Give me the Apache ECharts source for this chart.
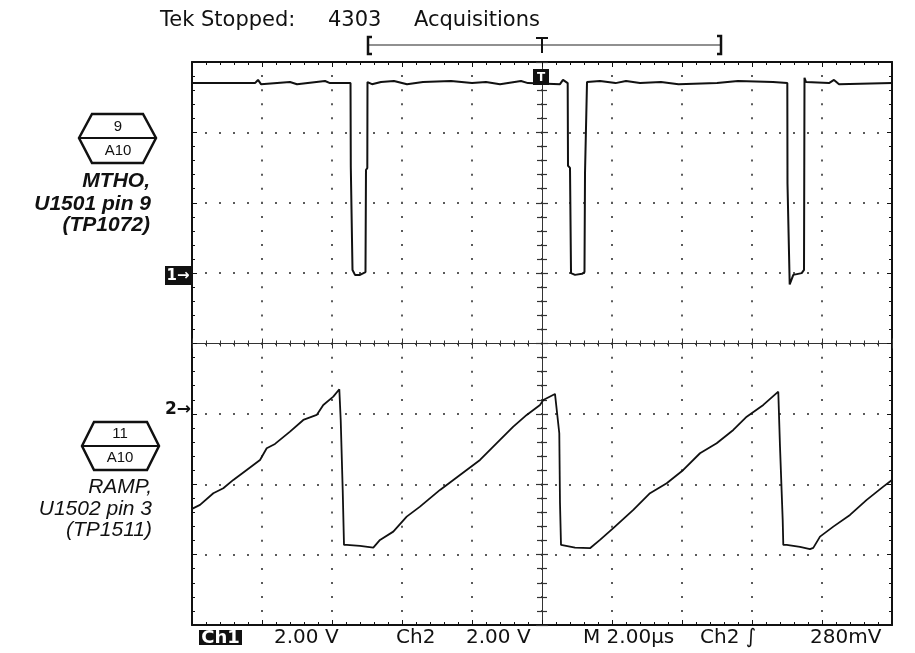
<!DOCTYPE html>
<html>
<head>
<meta charset="UTF-8">
<script src="https://cdn.jsdelivr.net/npm/echarts@6/dist/echarts.min.js"></script>
</head>
<body style="margin:0;background:#fff;">
<div id="scope" style="width:915px;height:653px;"></div>
<script type="text/javascript">
// time in microseconds relative to trigger (2 us/div, 10 div)
var ch1Time = [-10, -8.2, -8.114, -8.029, -7.2, -7.0, -6.2, -6.057, -5.471, -5.463, -5.42, -5.414, -5.343, -5.2, -5.043, -5.029, -4.991, -4.986, -4.857,
    -4.6, -4.229, -3.857, -3.4, -2.6, -2.0, -1.6, -1.2, -0.6, -0.4, 0.514, 0.6, 0.734, 0.743, 0.8, 0.829, 0.943, 1.143, 1.214, 1.229, 1.277, 1.286,
    1.657, 2.1, 2.4, 2.8, 3.4, 3.9, 5.0, 5.6, 6.6, 7.009, 7.014, 7.066, 7.077, 7.18, 7.42, 7.486, 7.5, 7.543, 8.2, 8.343, 8.486, 10];
// ch1 volts (2.00 V/div)
var ch1Volts = [5.40, 5.40, 5.49, 5.37, 5.43, 5.37, 5.46, 5.40, 5.40, 3.03, 2.99, 0.09, -0.05, -0.05, 0.03, 2.93, 2.99, 5.43, 5.37,
    5.43, 5.46, 5.37, 5.43, 5.46, 5.40, 5.43, 5.37, 5.46, 5.40, 5.37, 5.49, 5.40, 3.05, 2.99, 0.0, -0.05, -0.02, 0.03, 2.85, 2.88, 5.43,
    5.46, 5.40, 5.46, 5.40, 5.43, 5.37, 5.40, 5.46, 5.43, 5.40, 2.55, 2.51, -0.32, -0.05, 0.0, 0.09, 5.55, 5.43, 5.40, 5.49, 5.37, 5.40];

var ch2Time = [-10, -9.771, -9.391, -9.106, -8.82, -8.437, -8.057, -7.866, -7.629, -7.2, -6.82, -6.437, -6.249, -5.963, -5.791, -5.751, -5.694, -5.657,
    -5.58, -5.2, -4.82, -4.629, -4.249, -3.866, -3.486, -2.914, -2.343, -1.771, -1.2, -0.82, -0.437, -0.057, 0.037, 0.371, 0.494, 0.514, 0.543,
    0.943, 1.371, 1.657, 2.037, 2.609, 3.086, 3.563, 4.037, 4.514, 4.991, 5.466, 5.849, 6.323, 6.751, 6.8, 6.877, 6.894,
    6.991, 7.371, 7.657, 7.751, 7.943, 8.323, 8.8, 9.277, 9.751, 10];
// ch2 volts (2.00 V/div)
var ch2Volts = [-2.84, -2.727, -2.395, -2.253, -2.017, -1.733, -1.449, -1.116, -0.994, -0.645, -0.313, -0.17, 0.114, 0.349, 0.56, -0.313, -2.301, -3.864,
    -3.864, -3.892, -3.94, -3.722, -3.486, -3.06, -2.776, -2.301, -1.875, -1.449, -0.881, -0.503, -0.17, 0.114, 0.256, 0.426, -0.69, -2.67, -3.864,
    -3.94, -3.957, -3.722, -3.389, -2.869, -2.395, -2.111, -1.733, -1.259, -0.974, -0.597, -0.219, 0.114, 0.491, -1.071, -3.153, -3.864,
    -3.864, -3.92, -3.986, -3.949, -3.628, -3.344, -3.011, -2.585, -2.207, -2.017];

var statusTexts = ['2.00 V', 'Ch2', '2.00 V', 'M 2.00\u00b5s', 'Ch2 \u222b', '280mV'];
var statusX = [274, 396, 466, 583, 700, 810];

function pairs(t, v) {
    var out = [];
    for (var i = 0; i < t.length; i++) out.push([t[i], v[i]]);
    return out;
}

var INK = '#111';
var DOT = '#5a5a5a';

var frameX = function (pos) {
    return {
        type: 'value', gridIndex: 0, position: pos, min: -10, max: 10, interval: 2,
        axisLine: { show: true, onZero: false, lineStyle: { color: INK, width: 2 } },
        axisTick: { show: true, inside: true, length: 5, lineStyle: { color: INK, width: 1 } },
        minorTick: { show: true, splitNumber: 5, length: 3, lineStyle: { color: INK, width: 1 } },
        axisLabel: { show: false },
        splitLine: { show: pos === 'bottom', lineStyle: { color: DOT, width: 2, type: [2, 12.08], dashOffset: 1 } },
        minorSplitLine: { show: false }
    };
};
var frameY = function (pos) {
    return {
        type: 'value', gridIndex: 0, position: pos, min: -4, max: 4, interval: 1,
        axisLine: { show: true, onZero: false, lineStyle: { color: INK, width: 2 } },
        axisTick: { show: true, inside: true, length: 5, lineStyle: { color: INK, width: 1 } },
        minorTick: { show: true, splitNumber: 5, length: 3, lineStyle: { color: INK, width: 1 } },
        axisLabel: { show: false },
        splitLine: { show: pos === 'left', lineStyle: { color: DOT, width: 2, type: [2, 12], dashOffset: 1 } },
        minorSplitLine: { show: false }
    };
};
var centerX = function (inside) {
    return {
        type: 'value', gridIndex: 0, position: 'bottom', min: -10, max: 10, interval: 2,
        axisLine: { show: true, onZero: true, onZeroAxisIndex: 0, lineStyle: { color: '#333', width: 1 } },
        axisTick: { show: true, inside: inside, length: 5, lineStyle: { color: '#333', width: 1 } },
        minorTick: { show: true, splitNumber: 5, length: 3, lineStyle: { color: '#333', width: 1 } },
        axisLabel: { show: false }, splitLine: { show: false }
    };
};
var centerY = function (inside) {
    return {
        type: 'value', gridIndex: 0, position: 'left', min: -4, max: 4, interval: 1,
        axisLine: { show: true, onZero: true, onZeroAxisIndex: 0, lineStyle: { color: '#333', width: 1 } },
        axisTick: { show: true, inside: inside, length: 6, lineStyle: { color: '#333', width: 1.2 } },
        minorTick: { show: true, splitNumber: 5, length: 5, lineStyle: { color: '#333', width: 1.2 } },
        axisLabel: { show: false }, splitLine: { show: false }
    };
};

var labelFontTop = 'italic bold 21px "Liberation Sans"';
var labelFontBot = 'italic 21px "Liberation Sans"';
var tekFont = '20px "DejaVu Sans"';
var tagFont = '15px "Liberation Sans"';

var gfx = [
    // header
    { type: 'text', style: { text: 'Tek Stopped:', x: 160, y: 21, font: '21px "DejaVu Sans"', fill: INK, textVerticalAlign: 'middle' } },
    { type: 'text', style: { text: '4303', x: 328, y: 21, font: '21px "DejaVu Sans"', fill: INK, textVerticalAlign: 'middle' } },
    { type: 'text', style: { text: 'Acquisitions', x: 414, y: 21, font: '21px "DejaVu Sans"', fill: INK, textVerticalAlign: 'middle' } },
    // record view bracket
    { type: 'line', shape: { x1: 368, y1: 45, x2: 721, y2: 45 }, style: { stroke: '#222', lineWidth: 1.2 } },
    { type: 'polyline', shape: { points: [[372, 37], [368, 37], [368, 54], [372, 54]] }, style: { stroke: INK, lineWidth: 2.5, fill: null } },
    { type: 'polyline', shape: { points: [[717, 36], [721, 36], [721, 54], [717, 54]] }, style: { stroke: INK, lineWidth: 2.5, fill: null } },
    { type: 'line', shape: { x1: 536, y1: 38, x2: 548, y2: 38 }, style: { stroke: INK, lineWidth: 2 } },
    { type: 'line', shape: { x1: 542, y1: 38, x2: 542, y2: 53 }, style: { stroke: INK, lineWidth: 2 } },
    // trigger position marker
    { type: 'rect', shape: { x: 533, y: 69, width: 16, height: 16 }, style: { fill: INK }, z: 20 },
    { type: 'text', style: { text: 'T', x: 541, y: 77.5, font: 'bold 12px "DejaVu Sans"', fill: '#fff', textAlign: 'center', textVerticalAlign: 'middle' }, z: 21 },
    // channel ground markers
    { type: 'rect', shape: { x: 165, y: 266, width: 26, height: 19 }, style: { fill: INK } },
    { type: 'text', style: { text: '1\u2192', x: 178, y: 276, font: 'bold 15px "DejaVu Sans"', fill: '#fff', textAlign: 'center', textVerticalAlign: 'middle' } },
    { type: 'text', style: { text: '2\u2192', x: 178, y: 410, font: 'bold 17px "DejaVu Sans"', fill: INK, textAlign: 'center', textVerticalAlign: 'middle' } },
    // hexagon tags
    { type: 'polygon', shape: { points: [[79, 138], [92, 114], [143, 114], [156, 138], [143, 163], [92, 163]] }, style: { stroke: INK, lineWidth: 2.5, fill: '#fff' } },
    { type: 'line', shape: { x1: 79, y1: 138, x2: 156, y2: 138 }, style: { stroke: INK, lineWidth: 2 } },
    { type: 'text', style: { text: '9', x: 118, y: 127, font: tagFont, fill: INK, textAlign: 'center', textVerticalAlign: 'middle' } },
    { type: 'text', style: { text: 'A10', x: 118, y: 151, font: tagFont, fill: INK, textAlign: 'center', textVerticalAlign: 'middle' } },
    { type: 'polygon', shape: { points: [[82, 446], [94, 422], [147, 422], [159, 446], [147, 470], [94, 470]] }, style: { stroke: INK, lineWidth: 2.5, fill: '#fff' } },
    { type: 'line', shape: { x1: 82, y1: 446, x2: 159, y2: 446 }, style: { stroke: INK, lineWidth: 2 } },
    { type: 'text', style: { text: '11', x: 120, y: 434, font: tagFont, fill: INK, textAlign: 'center', textVerticalAlign: 'middle' } },
    { type: 'text', style: { text: 'A10', x: 120, y: 458, font: tagFont, fill: INK, textAlign: 'center', textVerticalAlign: 'middle' } },
    // signal names
    { type: 'text', style: { text: 'MTHO,', x: 150, y: 181, font: labelFontTop, fill: INK, textAlign: 'right', textVerticalAlign: 'middle' } },
    { type: 'text', style: { text: 'U1501 pin 9', x: 151, y: 204, font: labelFontTop, fill: INK, textAlign: 'right', textVerticalAlign: 'middle' } },
    { type: 'text', style: { text: '(TP1072)', x: 150, y: 225, font: labelFontTop, fill: INK, textAlign: 'right', textVerticalAlign: 'middle' } },
    { type: 'text', style: { text: 'RAMP,', x: 152, y: 487, font: labelFontBot, fill: INK, textAlign: 'right', textVerticalAlign: 'middle' } },
    { type: 'text', style: { text: 'U1502 pin 3', x: 152, y: 509, font: labelFontBot, fill: INK, textAlign: 'right', textVerticalAlign: 'middle' } },
    { type: 'text', style: { text: '(TP1511)', x: 152, y: 530, font: labelFontBot, fill: INK, textAlign: 'right', textVerticalAlign: 'middle' } },
    // status line
    { type: 'rect', shape: { x: 199, y: 630, width: 43, height: 15 }, style: { fill: INK } },
    { type: 'text', style: { text: 'Ch1', x: 220.5, y: 638, font: 'bold 18px "DejaVu Sans"', fill: '#fff', textAlign: 'center', textVerticalAlign: 'middle' } }
];
for (var i = 0; i < statusTexts.length; i++) {
    gfx.push({ type: 'text', style: { text: statusTexts[i], x: statusX[i], y: 638, font: tekFont, fill: INK, textVerticalAlign: 'middle' } });
}

var chart = echarts.init(document.getElementById('scope'), null, { renderer: 'canvas' });
chart.setOption({
    animation: false,
    backgroundColor: '#fff',
    grid: { left: 192, top: 62, width: 700, height: 563, outerBoundsMode: 'none', containLabel: false },
    xAxis: [frameX('bottom'), frameX('top'), centerX(false), centerX(true)],
    yAxis: [
        frameY('left'), frameY('right'),
        { type: 'value', show: false, min: -10, max: 6 },
        { type: 'value', show: false, min: -6.14, max: 9.86 },
        centerY(false), centerY(true)
    ],
    series: [
        { name: 'Ch1', type: 'line', xAxisIndex: 0, yAxisIndex: 2, data: pairs(ch1Time, ch1Volts), showSymbol: false,
          lineStyle: { color: INK, width: 2 }, z: 10 },
        { name: 'Ch2', type: 'line', xAxisIndex: 0, yAxisIndex: 3, data: pairs(ch2Time, ch2Volts), showSymbol: false,
          lineStyle: { color: INK, width: 1.8 }, z: 10 }
    ],
    graphic: { elements: gfx }
});
</script>
</body>
</html>
